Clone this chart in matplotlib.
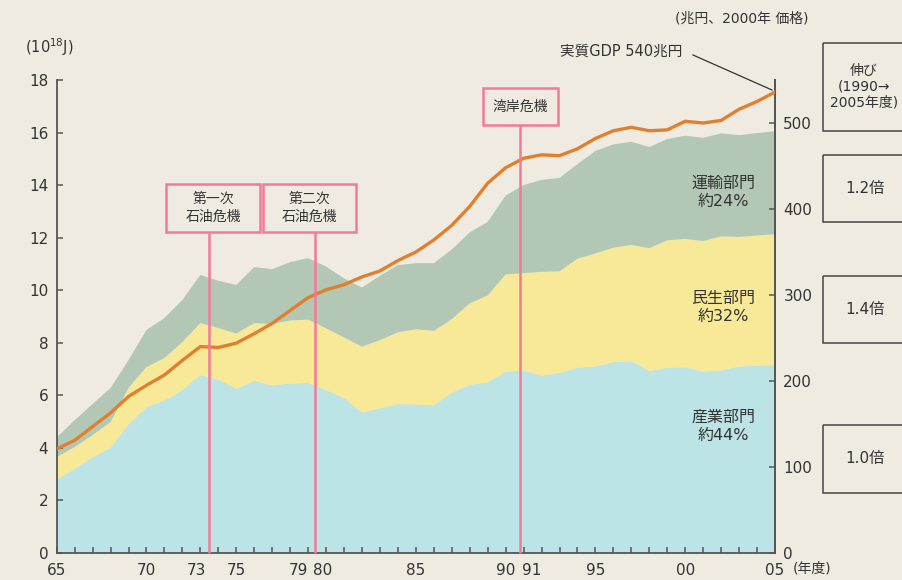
import matplotlib
matplotlib.use("Agg")
import matplotlib.pyplot as plt
from matplotlib.patches import Rectangle
from matplotlib.transforms import ScaledTranslation
import numpy as np

plt.rcParams['font.family'] = ['DejaVu Sans', 'Noto Sans CJK JP']

years = list(range(1965, 2006))
industry = [2.78, 3.20, 3.65, 4.00, 4.90, 5.55, 5.80, 6.20, 6.77, 6.60,
            6.25, 6.55, 6.38, 6.45, 6.47, 6.20, 5.90, 5.35, 5.50, 5.67,
            5.65, 5.62, 6.10, 6.40, 6.50, 6.90, 6.95, 6.75, 6.85, 7.05,
            7.10, 7.27, 7.30, 6.92, 7.05, 7.07, 6.90, 6.95, 7.10, 7.12, 7.15]
residential = [0.87, 0.83, 0.84, 0.98, 1.38, 1.53, 1.62, 1.83, 1.98, 1.96,
               2.10, 2.20, 2.33, 2.40, 2.41, 2.35, 2.30, 2.50, 2.60, 2.73,
               2.87, 2.83, 2.80, 3.10, 3.30, 3.70, 3.70, 3.95, 3.87, 4.15,
               4.30, 4.35, 4.42, 4.68, 4.85, 4.88, 4.97, 5.10, 4.93, 4.96, 4.98]
transport = [0.75, 1.02, 1.18, 1.30, 1.06, 1.41, 1.52, 1.60, 1.83, 1.80,
             1.85, 2.13, 2.09, 2.22, 2.34, 2.35, 2.25, 2.25, 2.45, 2.55,
             2.51, 2.58, 2.65, 2.70, 2.80, 3.00, 3.35, 3.50, 3.55, 3.60,
             3.90, 3.93, 3.93, 3.85, 3.85, 3.93, 3.93, 3.92, 3.87, 3.90, 3.92]
gdp = [121, 131, 147, 163, 182, 195, 207, 224, 240, 239,
       244, 255, 267, 282, 297, 306, 312, 321, 328, 340,
       350, 364, 381, 403, 430, 448, 459, 463, 462, 470,
       482, 491, 495, 491, 492, 502, 500, 503, 516, 525, 536]

xtick_years = [1965, 1970, 1973, 1975, 1979, 1980, 1985, 1990, 1991, 1995, 2000, 2005]
xtick_labels = ['65', '70', '73', '75', '79', '80', '85', '90', '91', '95', '00', '05']
crises = [(1973.5, '第一次\n石油危機'), (1979.4, '第二次\n石油危機'), (1990.8, '湾岸危機')]
sector_labels = ['産業部門\n約44%', '民生部門\n約32%', '運輸部門\n約24%']
growth = ['1.0倍', '1.4倍', '1.2倍']

BG = '#F0EBE1'
C_IND = '#BCE3E5'
C_RES = '#F8E998'
C_TRA = '#B2C7B4'
C_GDP = '#E0802E'
C_PINK = '#F27A98'
C_AX = '#555555'
C_TXT = '#333333'

fig = plt.figure(figsize=(9.03, 5.80), dpi=100, facecolor=BG)
ax = fig.add_axes([56.7 / 903, 27 / 580, (775 - 56.7) / 903, 473 / 580])
ax.set_facecolor(BG)
ax.stackplot(years, industry, residential, transport,
             colors=[C_IND, C_RES, C_TRA], linewidth=0, zorder=1)
ax.set_xlim(1965, 2005)
ax.set_ylim(0, 18)
ax.set_yticks(range(0, 19, 2))
ax.set_xticks(xtick_years)
ax.set_xticklabels(xtick_labels)
ax.set_xticks(years, minor=True)
ax.spines['top'].set_visible(False)
for s in ['left', 'bottom', 'right']:
    ax.spines[s].set_color(C_AX)
    ax.spines[s].set_linewidth(1.3)
ax.tick_params(axis='both', which='both', direction='in', length=4, width=1.1,
               color=C_AX, labelcolor=C_TXT, labelsize=11)
ax.tick_params(axis='x', pad=7)
ax.tick_params(axis='y', pad=6)

offsets = {'73': -4, '79': -10, '80': -3, '91': 8}
for lab, txt in zip(ax.xaxis.get_majorticklabels(), xtick_labels):
    if txt in offsets:
        lab.set_transform(lab.get_transform() +
                          ScaledTranslation(offsets[txt] / 100, 0, fig.dpi_scale_trans))

ax2 = ax.twinx()
ax2.set_ylim(0, 550)
ax2.set_yticks(range(0, 501, 100))
for s in ['top', 'left', 'bottom']:
    ax2.spines[s].set_visible(False)
ax2.spines['right'].set_color(C_AX)
ax2.spines['right'].set_linewidth(1.3)
ax2.tick_params(axis='y', direction='in', length=4, width=1.1, color=C_AX,
                labelcolor=C_TXT, labelsize=11, pad=6)
ax2.plot(years, gdp, color=C_GDP, lw=2.4, zorder=3, solid_joinstyle='round')

# crisis lines and boxes
tr = ax2.get_xaxis_transform()
box_specs = [(1971.1, 1976.3, 0.679, 0.781),
             (1976.5, 1981.65, 0.679, 0.781),
             (1988.75, 1992.9, 0.905, 0.983)]
for (xc, label), (x0, x1, y0, y1) in zip(crises, box_specs):
    ax2.plot([xc, xc], [0, y0], transform=tr, color=C_PINK, lw=1.8, zorder=4,
             clip_on=False, solid_capstyle='butt')
    ax2.add_patch(Rectangle((x0, y0), x1 - x0, y1 - y0, transform=tr,
                            facecolor=BG, edgecolor=C_PINK, lw=1.8, zorder=5,
                            clip_on=False))
    ax2.text((x0 + x1) / 2, (y0 + y1) / 2, label, transform=tr, ha='center',
             va='center', fontsize=10, color=C_TXT, zorder=6, linespacing=1.35)

# overlay in pixel coordinates
ov = fig.add_axes([0, 0, 1, 1], facecolor='none')
ov.set_xlim(0, 903)
ov.set_ylim(580, 0)
ov.axis('off')

for (yc, txt) in zip([426, 307, 192], sector_labels):
    ov.text(723, yc, txt, ha='center', va='center', fontsize=11.5,
            color=C_TXT, linespacing=1.25)

ov.text(49, 47, '(10$^{\\mathregular{18}}$J)', ha='center', va='center',
        fontsize=10.5, color=C_TXT)
ov.text(742, 18, '(兆円、2000年 価格)', ha='center', va='center',
        fontsize=10, color=C_TXT)
ov.text(621, 51, '実質GDP 540兆円', ha='center', va='center',
        fontsize=10.5, color=C_TXT)
ov.plot([693, 772], [55, 90], color='#333333', lw=0.9)
ov.text(812, 569, '(年度)', ha='center', va='center', fontsize=10, color=C_TXT)

# right growth boxes
boxes = [(43, 131), (155, 222), (276, 343), (425, 493)]
for (y0, y1) in boxes:
    ov.add_patch(Rectangle((823, y0), 100, y1 - y0, facecolor='none',
                           edgecolor='#444444', lw=1.1))
ov.text(864, 87, '伸び\n(1990→\n2005年度)', ha='center', va='center',
        fontsize=10, color=C_TXT, linespacing=1.15)
for (y0, y1), txt in zip([boxes[3], boxes[2], boxes[1]], growth):
    ov.text(865, (y0 + y1) / 2, txt, ha='center', va='center', fontsize=11,
            color=C_TXT)

fig.savefig('out.png', dpi=100, facecolor=BG)
